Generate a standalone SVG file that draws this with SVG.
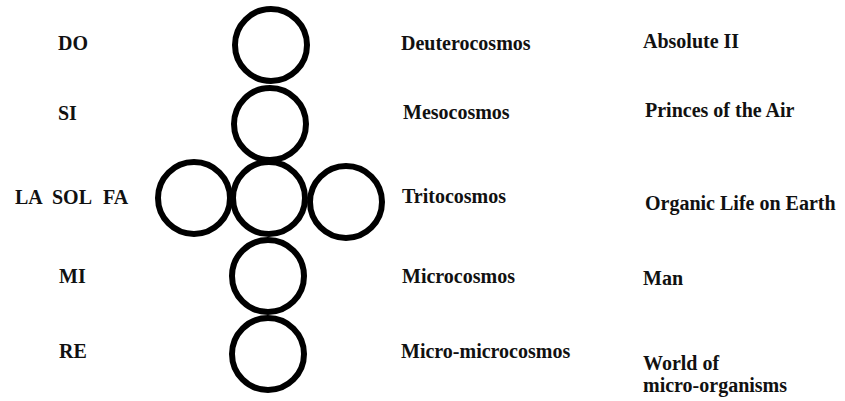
<svg xmlns="http://www.w3.org/2000/svg" width="845" height="401" viewBox="0 0 845 401">
<style>
.c{fill:none;stroke:#000;stroke-width:6}
.t{font-family:'Liberation Serif','DejaVu Serif',serif;font-weight:700;font-size:20px;fill:#111}
</style>
<rect width="845" height="401" fill="#fff"/>
<g id="circles">
<g id="c-do"><circle class="c" cx="271" cy="45" r="36"/></g>
<g id="c-si"><circle class="c" cx="270" cy="124" r="36"/></g>
<g id="c-sol"><circle class="c" cx="269" cy="198" r="36"/></g>
<g id="c-la"><circle class="c" cx="194" cy="198" r="36"/></g>
<g id="c-fa"><circle class="c" cx="346" cy="202" r="36"/></g>
<g id="c-mi"><circle class="c" cx="268" cy="276" r="36"/></g>
<g id="c-re"><circle class="c" cx="268" cy="354" r="36"/></g>
</g>
<g id="notes" class="t">
<text x="58" y="50">DO</text>
<text x="58" y="120">SI</text>
<text x="15" y="204">LA</text>
<text x="52" y="204">SOL</text>
<text x="103" y="204">FA</text>
<text x="59" y="283">MI</text>
<text x="59" y="358">RE</text>
</g>
<g id="cosmoses" class="t">
<text x="401" y="50">Deuterocosmos</text>
<text x="403" y="119">Mesocosmos</text>
<text x="402" y="203">Tritocosmos</text>
<text x="402" y="283">Microcosmos</text>
<text x="401" y="358">Micro-microcosmos</text>
</g>
<g id="names" class="t">
<text x="643" y="48">Absolute II</text>
<text x="645" y="117">Princes of the Air</text>
<text x="645" y="210">Organic Life on Earth</text>
<text x="643" y="285">Man</text>
<text x="643" y="370">World of</text>
<text x="643" y="392">micro-organisms</text>
</g>
<g id="connectors"></g>
</svg>
